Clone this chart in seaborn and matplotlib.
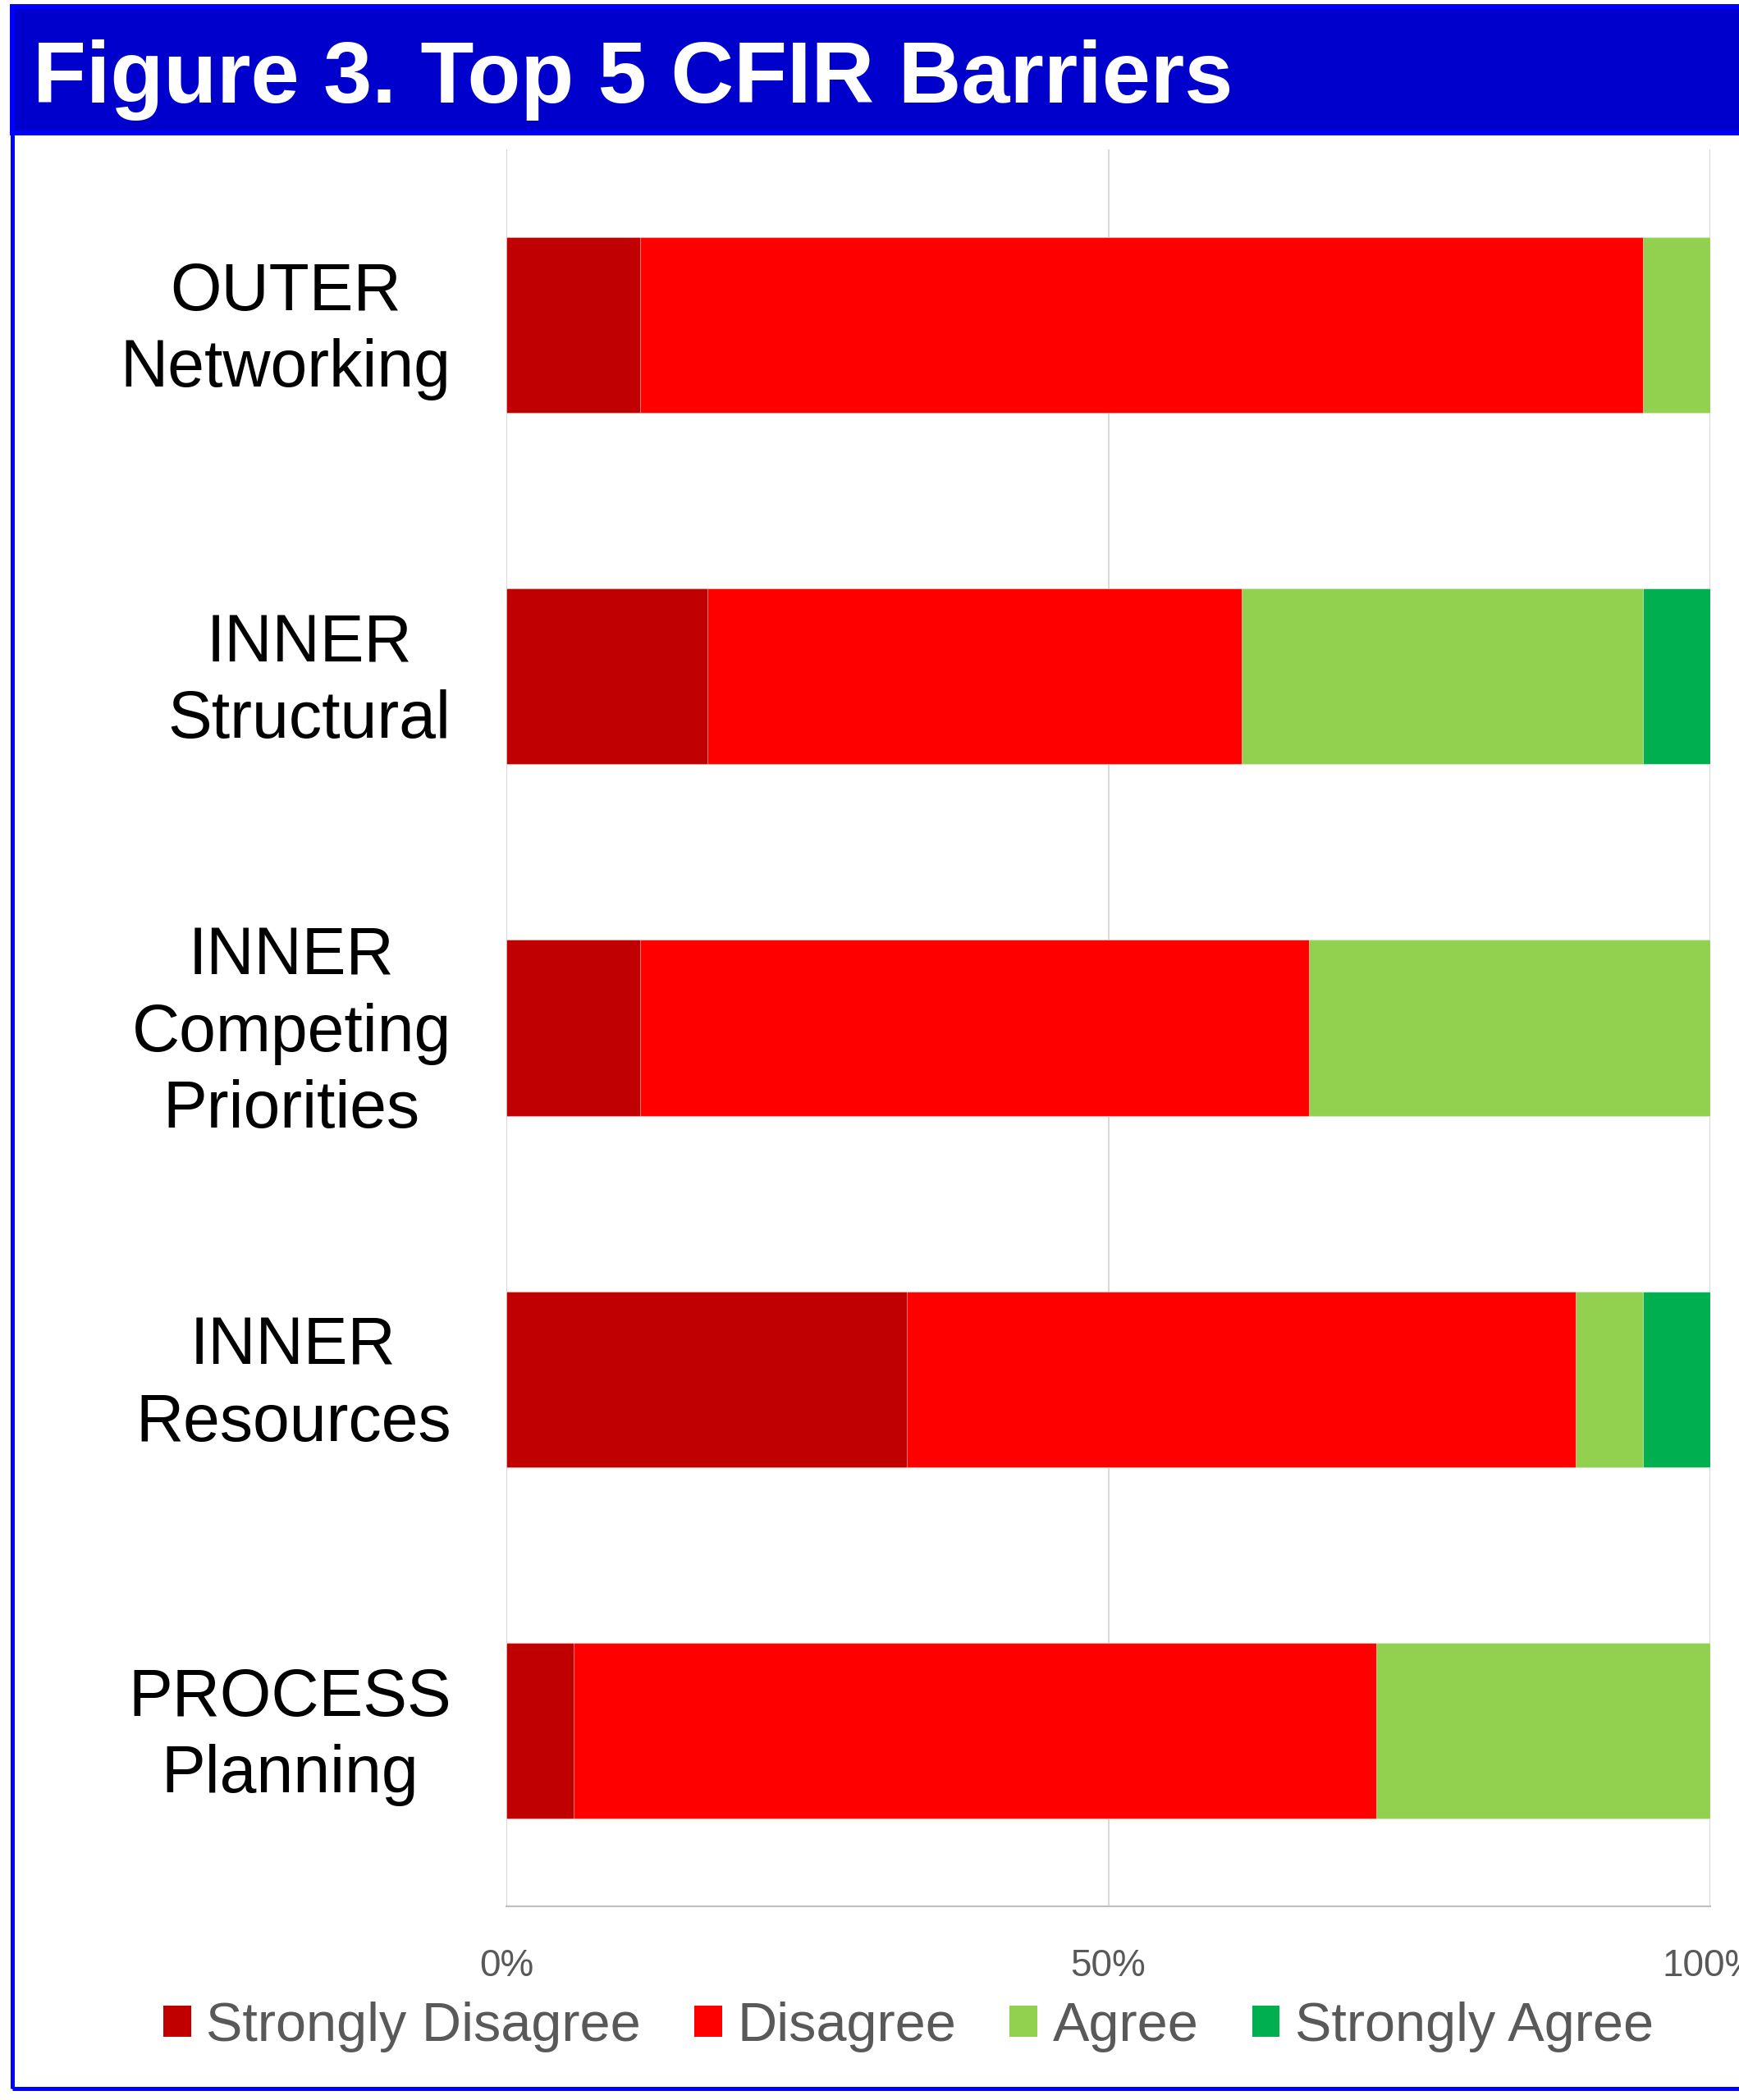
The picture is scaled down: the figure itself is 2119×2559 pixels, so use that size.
import numpy as np
import pandas as pd
import seaborn as sns
import matplotlib.pyplot as plt
import matplotlib.transforms as mtransforms
from matplotlib.patches import Patch, Rectangle

# Data (percent of respondents per barrier)
barriers = ['OUTER\nNetworking', 'INNER\nStructural', 'INNER\nCompeting\nPriorities',
            'INNER\nResources', 'PROCESS\nPlanning']
responses = ['Strongly Disagree', 'Disagree', 'Agree', 'Strongly Agree']
strongly_disagree = [11.1, 16.7, 11.1, 33.3, 5.6]
disagree = [83.3, 44.4, 55.6, 55.6, 66.7]
agree = [5.6, 33.3, 33.3, 5.6, 27.8]
strongly_agree = [0.0, 5.6, 0.0, 5.6, 0.0]
colors = ['#C00000', '#FF0000', '#92D050', '#00B050']

# 100% stacked: normalise each row, then cumulative sums for layering
df = pd.DataFrame({'Strongly Disagree': strongly_disagree, 'Disagree': disagree,
                   'Agree': agree, 'Strongly Agree': strongly_agree}, index=barriers)
df = df.div(df.sum(axis=1), axis=0) * 100
cum = df.cumsum(axis=1)
cum['barrier'] = barriers

sns.set_style('white')
plt.rcParams['font.family'] = ['Liberation Sans', 'DejaVu Sans']

W, H = 2119, 2559
fig = plt.figure(figsize=(W / 100, H / 100), dpi=100)
ax = fig.add_axes([617 / W, 1 - 2323 / H, (2084 - 617) / W, (2323 - 182) / H])

# draw the widest layer first so the narrower ones sit on top
for resp, col in zip(responses[::-1], colors[::-1]):
    sns.barplot(data=cum, x=resp, y='barrier', orient='h', color=col, saturation=1,
                width=0.5, errorbar=None, edgecolor=(1, 1, 1, 0.45), linewidth=0.8,
                ax=ax, zorder=3)

ax.set_xlim(0, 100)
ax.set_ylim(4.5, -0.5)
ax.set_xlabel('')
ax.set_ylabel('')
ax.set_xticks([0, 50, 100])
ax.set_xticklabels(['0%', '50%', '100%'])
ax.set_xticks(np.arange(0, 101, 10), minor=True)
ax.grid(axis='x', which='major', color='#D9D9D9', linewidth=1.5, zorder=0)
ax.set_axisbelow(True)
for s in ['top', 'right', 'left']:
    ax.spines[s].set_visible(False)
ax.spines['bottom'].set_color('#BFBFBF')
ax.spines['bottom'].set_linewidth(1.5)
ax.tick_params(axis='x', which='major', direction='in', length=12, width=1.1,
               color='#BFBFBF', labelsize=33, labelcolor='#595959', pad=37)
ax.tick_params(axis='x', which='minor', direction='in', length=8.6, width=1.1,
               color='#BFBFBF')
ax.tick_params(axis='y', length=0, labelsize=58, labelcolor='black', pad=48.5)
shift_up = mtransforms.ScaledTranslation(0, 7 / 72, fig.dpi_scale_trans)
for lab in ax.get_yticklabels():
    lab.set_multialignment('center')
    lab.set_linespacing(1.29)
    lab.set_transform(lab.get_transform() + shift_up)

# legend
handles = [Patch(facecolor=c, edgecolor='none', label=r) for r, c in zip(responses, colors)]
fig.legend(handles=handles, loc='center', bbox_to_anchor=(1107 / W, 1 - 2470 / H),
           ncol=4, frameon=False, fontsize=48, labelcolor='#595959',
           handlelength=0.5, handleheight=0.5, handletextpad=0.28, columnspacing=0.98)

# title band and outer frame
fig.patches.append(Rectangle((15 / W, 1 - 2545 / H), 1.2, (2545 - 8) / H,
                             transform=fig.transFigure, facecolor='none',
                             edgecolor='#0000FF', linewidth=3.6, zorder=0))
fig.patches.append(Rectangle((15 / W, 1 - 162 / H), 1.2, (162 - 8) / H,
                             transform=fig.transFigure, facecolor='#0000CC',
                             edgecolor='#0000FF', linewidth=4.3, zorder=1))
fig.text(40 / W, 1 - 125 / H, 'Figure 3. Top 5 CFIR Barriers', color='white',
         fontsize=76.5, fontweight='bold', ha='left', va='baseline')

fig.savefig('out.png', dpi=100, facecolor='white')
